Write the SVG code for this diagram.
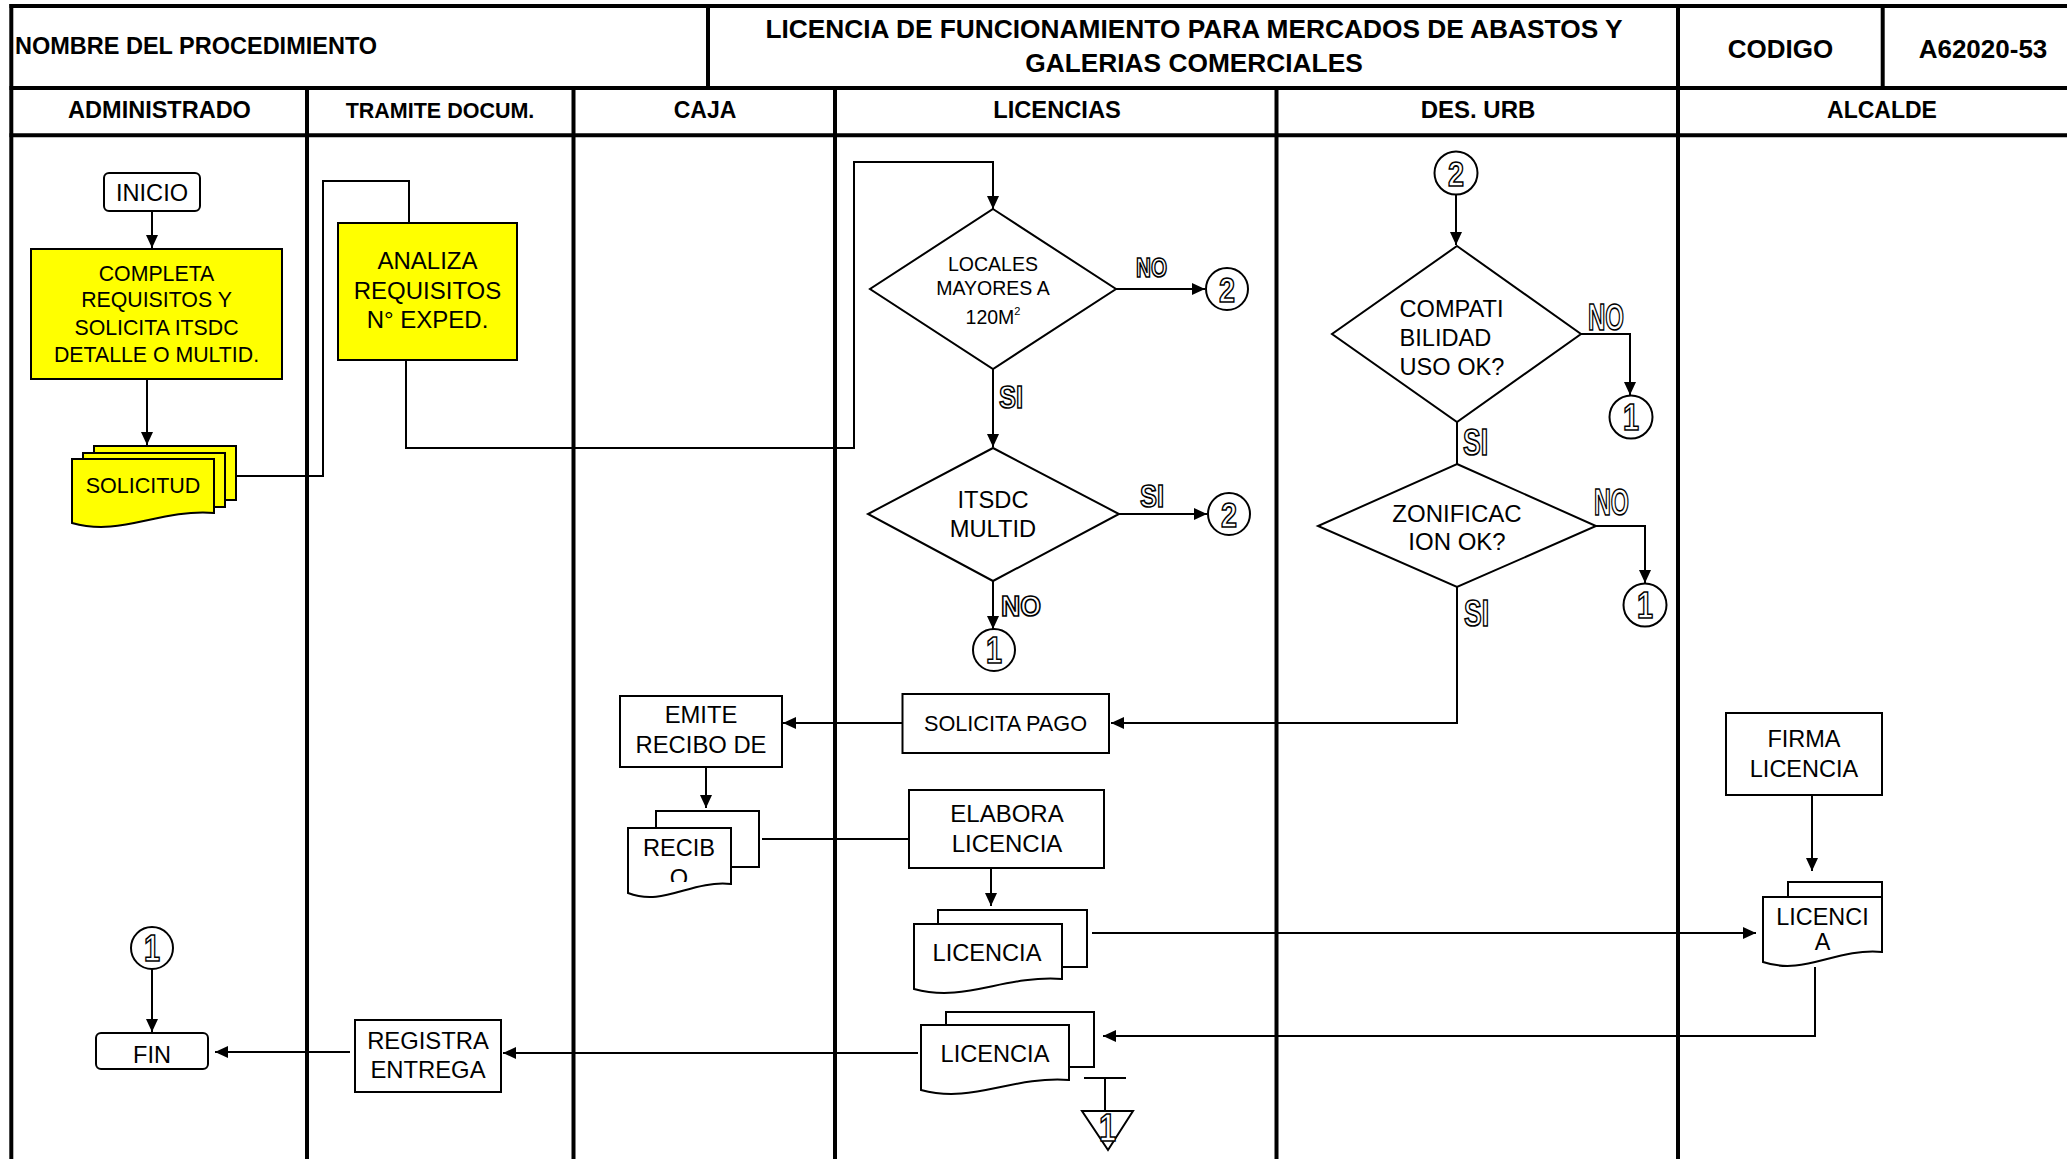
<svg xmlns="http://www.w3.org/2000/svg" width="2067" height="1159" viewBox="0 0 2067 1159">
<style>
.bg{fill:#fff}
.g{stroke:#000;stroke-width:4;fill:none}
.ln{stroke:#000;stroke-width:2;fill:none}
.ar{marker-end:url(#ah)}
.bx{fill:#fff;stroke:#000;stroke-width:2}
.yl{fill:#ffff00;stroke:#000;stroke-width:2}
.t{font-family:"Liberation Sans",Arial,sans-serif;fill:#000;text-anchor:middle}
.hb{font-family:"Liberation Sans",Arial,sans-serif;font-weight:bold;fill:#000;text-anchor:middle}
.o{font-family:"Liberation Sans",Arial,sans-serif;font-weight:bold;fill:#fff;stroke:#000;stroke-width:1.7}
.oc{font-family:"Liberation Sans",Arial,sans-serif;font-weight:bold;fill:#fff;stroke:#000;stroke-width:1.6;text-anchor:middle}
</style>
<defs>
<marker id="ah" viewBox="0 0 13 12" refX="13" refY="6" markerWidth="13" markerHeight="12" markerUnits="userSpaceOnUse" orient="auto"><path d="M0,0 L13,6 L0,12 Z" fill="#000"/></marker>
<clipPath id="recclip"><rect x="628" y="828" width="103" height="54"/></clipPath>
</defs>
<rect class="bg" x="0" y="0" width="2067" height="1159"/>

<g id="grid">
<line class="g" x1="9.5" y1="6" x2="2067" y2="6"/>
<line class="g" x1="9.5" y1="88" x2="2067" y2="88"/>
<line class="g" x1="9.5" y1="135.3" x2="2067" y2="135.3"/>
<line class="g" x1="11.3" y1="4" x2="11.3" y2="1159"/>
<line class="g" x1="708" y1="6" x2="708" y2="88"/>
<line class="g" x1="1882.7" y1="6" x2="1882.7" y2="88"/>
<line class="g" x1="307" y1="88" x2="307" y2="1159"/>
<line class="g" x1="573.5" y1="88" x2="573.5" y2="1159"/>
<line class="g" x1="835" y1="88" x2="835" y2="1159"/>
<line class="g" x1="1276.5" y1="88" x2="1276.5" y2="1159"/>
<line class="g" x1="1678" y1="6" x2="1678" y2="1159"/>
</g>

<g id="header">
<text class="hb" x="15" y="54" font-size="23.5" style="text-anchor:start">NOMBRE DEL PROCEDIMIENTO</text>
<text class="hb" x="1194" y="37.5" font-size="26.3">LICENCIA DE FUNCIONAMIENTO PARA MERCADOS DE ABASTOS Y</text>
<text class="hb" x="1194" y="71.5" font-size="26.3">GALERIAS COMERCIALES</text>
<text class="hb" x="1780.5" y="57.5" font-size="26">CODIGO</text>
<text class="hb" x="1983" y="57.5" font-size="26">A62020-53</text>
<text class="hb" x="159.5" y="118.3" font-size="23.5">ADMINISTRADO</text>
<text class="hb" x="440" y="118.3" font-size="21.5">TRAMITE DOCUM.</text>
<text class="hb" x="705" y="118.3" font-size="23">CAJA</text>
<text class="hb" x="1057" y="118.3" font-size="23.7">LICENCIAS</text>
<text class="hb" x="1478" y="118.3" font-size="24">DES. URB</text>
<text class="hb" x="1882" y="118.3" font-size="23">ALCALDE</text>
</g>

<g id="connectors">
<polyline class="ln ar" points="152,211 152,248"/>
<polyline class="ln ar" points="147,379 147,445"/>
<polyline class="ln" points="224,476 323,476 323,181 409,181 409,223"/>
<polyline class="ln ar" points="406,360 406,448 854,448 854,162 993,162 993,209"/>
<polyline class="ln ar" points="1116,289 1205,289"/>
<polyline class="ln ar" points="993,369 993,447"/>
<polyline class="ln ar" points="1119,514 1207,514"/>
<polyline class="ln ar" points="993,581 993,629"/>
<polyline class="ln ar" points="1456,195 1456,245"/>
<polyline class="ln ar" points="1581,334 1630,334 1630,395"/>
<polyline class="ln" points="1457,422 1457,464"/>
<polyline class="ln ar" points="1596,526 1645,526 1645,583"/>
<polyline class="ln ar" points="1457,587 1457,723 1111,723"/>
<polyline class="ln ar" points="902,723 783,723"/>
<polyline class="ln ar" points="706,767 706,808"/>
<polyline class="ln" points="762,839 909,839"/>
<polyline class="ln ar" points="991,868 991,906"/>
<polyline class="ln ar" points="1092,933 1756,933"/>
<polyline class="ln ar" points="1812,795 1812,871"/>
<polyline class="ln ar" points="1815,967 1815,1036 1103,1036"/>
<polyline class="ln ar" points="918,1053 503,1053"/>
<polyline class="ln ar" points="350,1052 215,1052"/>
<polyline class="ln ar" points="152,969 152,1032"/>
<line class="ln" x1="1084" y1="1078" x2="1126" y2="1078"/>
<line class="ln" x1="1105" y1="1078" x2="1105" y2="1111"/>
<text class="o" x="1136" y="277" font-size="27" textLength="31" lengthAdjust="spacingAndGlyphs">NO</text>
<text class="o" x="999" y="408" font-size="32" textLength="24" lengthAdjust="spacingAndGlyphs">SI</text>
<text class="o" x="1140" y="507" font-size="32" textLength="24" lengthAdjust="spacingAndGlyphs">SI</text>
<text class="o" x="1001" y="616" font-size="29" textLength="40" lengthAdjust="spacingAndGlyphs">NO</text>
<text class="o" x="1588" y="330" font-size="36" textLength="36" lengthAdjust="spacingAndGlyphs">NO</text>
<text class="o" x="1463" y="455" font-size="36" textLength="25" lengthAdjust="spacingAndGlyphs">SI</text>
<text class="o" x="1594" y="515" font-size="36" textLength="35" lengthAdjust="spacingAndGlyphs">NO</text>
<text class="o" x="1464" y="626" font-size="36" textLength="25" lengthAdjust="spacingAndGlyphs">SI</text>
</g>

<g id="inicio">
<rect class="bx" x="104" y="173" width="96" height="38" rx="5"/>
<text class="t" x="152" y="201" font-size="23.6">INICIO</text>
</g>
<g id="completa">
<rect class="yl" x="31" y="249" width="251" height="130"/>
<text class="t" x="156.5" y="280.5" font-size="21.3">COMPLETA</text>
<text class="t" x="156.5" y="307.3" font-size="21.3">REQUISITOS Y</text>
<text class="t" x="156.5" y="335" font-size="21.3">SOLICITA ITSDC</text>
<text class="t" x="156.5" y="361.7" font-size="21.3">DETALLE O MULTID.</text>
</g>
<g id="solicitud">
<rect class="yl" x="94" y="446" width="142" height="54"/>
<rect class="yl" x="83" y="453" width="142" height="54"/>
<path class="yl" d="M72,459 H214 V513 C157.2,509 121.7,537 72,523 Z"/>
<text class="t" x="143" y="493.3" font-size="21.5">SOLICITUD</text>
</g>
<g id="analiza">
<rect class="yl" x="338" y="223" width="179" height="137"/>
<text class="t" x="427.5" y="269.3" font-size="24">ANALIZA</text>
<text class="t" x="427.5" y="299" font-size="24">REQUISITOS</text>
<text class="t" x="427.5" y="328.3" font-size="24">N° EXPED.</text>
</g>
<g id="d-locales">
<polygon class="bx" points="993,209 1116,289 993,369 870,289"/>
<text class="t" x="993" y="270.7" font-size="19.5">LOCALES</text>
<text class="t" x="993" y="295" font-size="19.5">MAYORES A</text>
<text class="t" x="993" y="323.5" font-size="19.5">120M<tspan font-size="11" dy="-9">2</tspan></text>
</g>
<g id="c2a">
<circle class="bx" cx="1227" cy="289" r="21"/>
<text class="oc" x="1227" y="302" font-size="35" textLength="16" lengthAdjust="spacingAndGlyphs">2</text>
</g>
<g id="d-itsdc">
<polygon class="bx" points="993,448 1119,514 993,581 868,514"/>
<text class="t" x="993" y="508" font-size="23.7">ITSDC</text>
<text class="t" x="993" y="536.5" font-size="23.7">MULTID</text>
</g>
<g id="c2b">
<circle class="bx" cx="1229" cy="514" r="21"/>
<text class="oc" x="1229" y="527" font-size="35" textLength="16" lengthAdjust="spacingAndGlyphs">2</text>
</g>
<g id="c1a">
<circle class="bx" cx="994" cy="650" r="21"/>
<text class="oc" x="994" y="663" font-size="36" textLength="16" lengthAdjust="spacingAndGlyphs">1</text>
</g>
<g id="c2c">
<circle class="bx" cx="1456" cy="173" r="21.5"/>
<text class="oc" x="1456" y="186" font-size="35" textLength="16" lengthAdjust="spacingAndGlyphs">2</text>
</g>
<g id="d-compat">
<polygon class="bx" points="1457,246 1581,334 1457,422 1332,334"/>
<text class="t" x="1399.5" y="316.5" font-size="23.6" style="text-anchor:start">COMPATI</text>
<text class="t" x="1399.5" y="346" font-size="23.6" style="text-anchor:start">BILIDAD</text>
<text class="t" x="1399.5" y="375" font-size="23.6" style="text-anchor:start">USO OK?</text>
</g>
<g id="c1b">
<circle class="bx" cx="1631" cy="417" r="21.5"/>
<text class="oc" x="1631" y="430" font-size="36" textLength="16" lengthAdjust="spacingAndGlyphs">1</text>
</g>
<g id="d-zonif">
<polygon class="bx" points="1457,464 1596,526 1457,587 1318,526"/>
<text class="t" x="1457" y="521.5" font-size="24">ZONIFICAC</text>
<text class="t" x="1457" y="550" font-size="24">ION OK?</text>
</g>
<g id="c1c">
<circle class="bx" cx="1645" cy="605" r="21.5"/>
<text class="oc" x="1645" y="618" font-size="36" textLength="16" lengthAdjust="spacingAndGlyphs">1</text>
</g>
<g id="emite">
<rect class="bx" x="620" y="696" width="162" height="71"/>
<text class="t" x="701" y="723.3" font-size="23.8">EMITE</text>
<text class="t" x="701" y="753.3" font-size="23.8">RECIBO DE</text>
</g>
<g id="solicita-pago">
<rect class="bx" x="902.5" y="694" width="206.5" height="59"/>
<text class="t" x="1005.5" y="730.5" font-size="21.7">SOLICITA PAGO</text>
</g>
<g id="recibo">
<rect class="bx" x="656" y="811" width="103" height="56"/>
<path class="bx" d="M628,828 H731 V884 C689.8,880 664,907 628,893 Z"/>
<text class="t" x="679" y="856" font-size="23.6">RECIB</text>
<text class="t" x="679" y="886" font-size="23.6" clip-path="url(#recclip)">O</text>
</g>
<g id="elabora">
<rect class="bx" x="909" y="790" width="195" height="78"/>
<text class="t" x="1007" y="822.3" font-size="24">ELABORA</text>
<text class="t" x="1007" y="851.7" font-size="24">LICENCIA</text>
</g>
<g id="licencia1">
<rect class="bx" x="938" y="910" width="149" height="57"/>
<path class="bx" d="M914,924 H1062 V979 C1002.8,975 965.8,1003 914,989 Z"/>
<text class="t" x="987" y="960.7" font-size="23.6">LICENCIA</text>
</g>
<g id="licencia2">
<rect class="bx" x="946" y="1012" width="148" height="55"/>
<path class="bx" d="M921,1025 H1069 V1080 C1009.8,1076 972.8,1104 921,1090 Z"/>
<text class="t" x="995" y="1061.7" font-size="23.6">LICENCIA</text>
</g>
<g id="offpage1">
<polygon class="bx" points="1082,1111 1133,1111 1108,1150"/>
<text class="oc" x="1107.5" y="1141" font-size="38" textLength="17" lengthAdjust="spacingAndGlyphs">1</text>
</g>
<g id="firma">
<rect class="bx" x="1726" y="713" width="156" height="82"/>
<text class="t" x="1804" y="747.3" font-size="23.5">FIRMA</text>
<text class="t" x="1804" y="776.7" font-size="23.5">LICENCIA</text>
</g>
<g id="licencia-alcalde">
<rect class="bx" x="1788" y="882" width="94" height="50"/>
<path class="bx" d="M1763,897 H1882 V952 C1834.4,948 1804.7,976 1763,962 Z"/>
<text class="t" x="1822.5" y="925" font-size="23.4">LICENCI</text>
<text class="t" x="1822.5" y="950" font-size="23.4">A</text>
</g>
<g id="c1d">
<circle class="bx" cx="152" cy="948" r="21"/>
<text class="oc" x="152" y="961" font-size="36" textLength="16" lengthAdjust="spacingAndGlyphs">1</text>
</g>
<g id="fin">
<rect class="bx" x="96" y="1033" width="112" height="36" rx="5"/>
<text class="t" x="152" y="1062.7" font-size="23.5">FIN</text>
</g>
<g id="registra">
<rect class="bx" x="355" y="1020" width="146" height="72"/>
<text class="t" x="428" y="1049.3" font-size="23.8">REGISTRA</text>
<text class="t" x="428" y="1077.7" font-size="23.8">ENTREGA</text>
</g>
</svg>
